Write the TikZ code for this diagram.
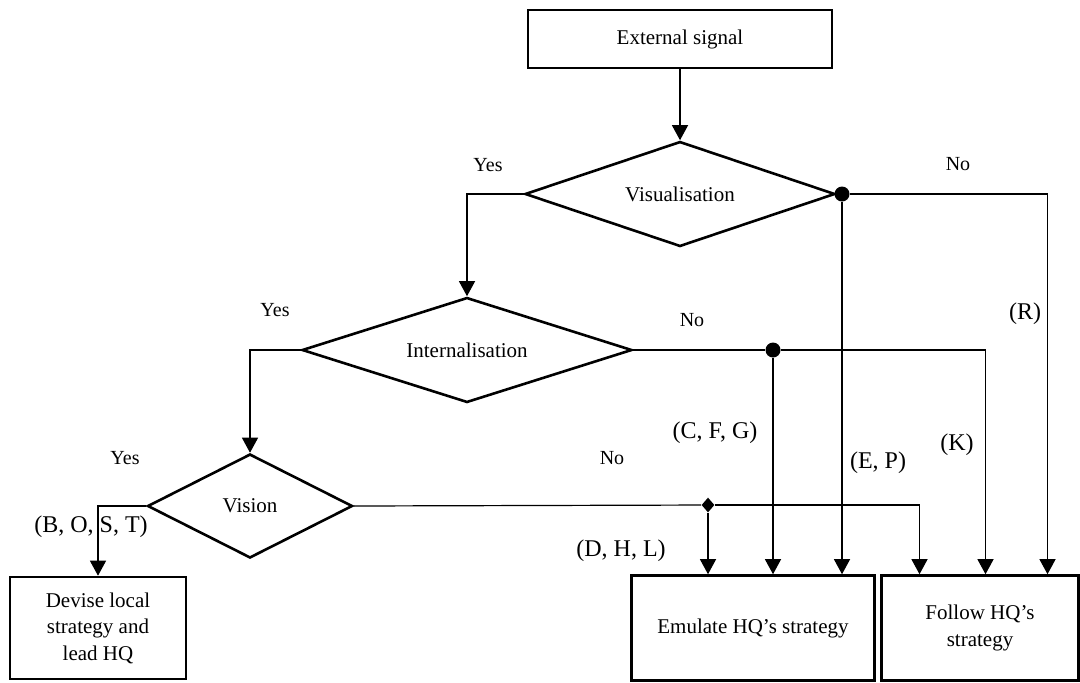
\documentclass[tikz,border=0pt]{standalone}
\usepackage{fontspec}
\setmainfont{Liberation Serif}
\usetikzlibrary{shapes.geometric,arrows.meta}

\begin{document}
\begin{tikzpicture}[x=0.5pt, y=-0.5pt,
	box/.style={draw, line width=1.3pt, rectangle, inner sep=0pt, align=center, font=\fontsize{10.5}{13.3}\selectfont},
	decision/.style={draw, line width=1.3pt, diamond, inner sep=0pt, font=\fontsize{10.5}{13.3}\selectfont},
	answer/.style={font=\fontsize{10}{12}\selectfont},
	cases/.style={font=\fontsize{12}{14}\selectfont},
	dot/.style={circle, fill, inner sep=0pt, minimum size=7.5pt},
	flow/.style={line width=0.6pt, -{Triangle[width=8pt,length=7.5pt]}},
	line/.style={line width=0.6pt}]
	\useasboundingbox (0,0) rectangle (1080,682);

	\node[box, minimum width=152pt, minimum height=29pt] (ext) at (680,39) {External signal};

	\node[decision, aspect=2.95, minimum width=155pt, minimum height=52.5pt] (vis) at (680,194) {Visualisation};
	\node[decision, aspect=3.14, minimum width=165pt, minimum height=52.5pt] (intl) at (467,350) {Internalisation};
	\node[decision, aspect=1.97, minimum width=102.5pt, minimum height=52pt] (vsn) at (250,506) {Vision};

	\node[box, minimum width=88pt, minimum height=51pt] (devise) at (98,628) {Devise local\\strategy and\\lead HQ};
	\node[box, minimum width=121.5pt, minimum height=52.5pt] (emul) at (753,628) {Emulate HQ's strategy};
	\node[box, minimum width=98.5pt, minimum height=52.5pt] (follow) at (980,628) {Follow HQ's\\strategy};

	\node[dot] (jvis) at (842,194) {};
	\node[dot] (jint) at (773,350) {};
	\node[diamond, fill, inner sep=0pt, minimum width=6.5pt, minimum height=7.5pt] (jvsn) at (708,505) {};

	\draw[flow] (ext) -- (vis);
	\draw[flow] (vis.west) -| (intl.north);
	\draw[flow] (intl.west) -| (vsn.north);
	\draw[flow] (vsn.west) -| (devise.north);

	\draw[line] (vis.east) -- (jvis);
	\draw[flow] (jvis) -- (jvis |- emul.north);
	\draw[flow] (jvis) -| ([xshift=33.75pt]follow.north);

	\draw[line] (intl.east) -- (jint);
	\draw[flow] (jint) -- (jint |- emul.north);
	\draw[flow] (jint) -| ([xshift=2.75pt]follow.north);

	\draw[line] (vsn.east) -- (jvsn);
	\draw[flow] (jvsn) -- (jvsn |- emul.north);
	\draw[flow] (jvsn) -| ([xshift=-30.25pt]follow.north);

	\node[answer] (yvis) at (488,165) {Yes};
	\node[answer] (nvis) at (958,164) {No};
	\node[answer] (yint) at (275,310) {Yes};
	\node[answer] (nint) at (692,320) {No};
	\node[answer] (yvsn) at (125,458) {Yes};
	\node[answer] (nvsn) at (612,458) {No};

	\node[cases] (cR) at (1025,314) {(R)};
	\node[cases] (cK) at (957,445) {(K)};
	\node[cases] (cEP) at (878,463) {(E, P)};
	\node[cases] (cCFG) at (715,433) {(C, F, G)};
	\node[cases] (cDHL) at (621,551) {(D, H, L)};
	\node[cases] (cBOST) at (91,527) {(B, O, S, T)};

\end{tikzpicture}
\end{document}
